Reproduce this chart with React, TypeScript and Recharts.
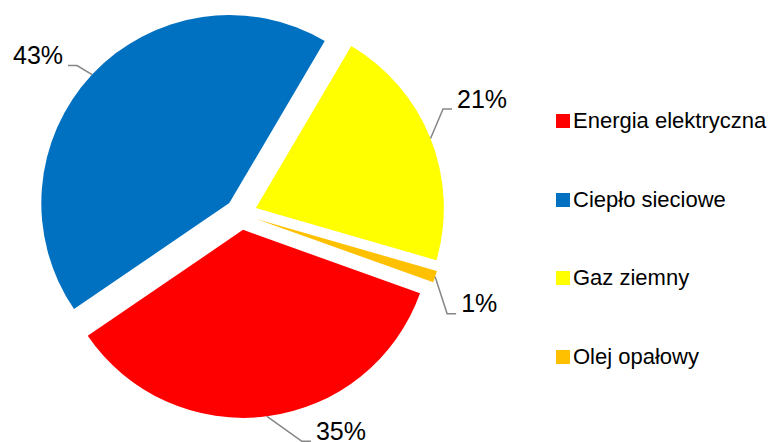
import React from 'react';
import { PieChart, Pie, Cell, Sector, Legend } from 'recharts';

const categories = ['Energia elektryczna', 'Ciepło sieciowe', 'Gaz ziemny', 'Olej opałowy'];
const shares = [35, 43, 21, 1];
const colors = ['#FF0000', '#0070C0', '#FFFF00', '#FFC000'];

const data = categories.map((name, i) => ({ name, value: shares[i] }));

const RAD = Math.PI / 180;
const EXPLODE = 16;
const FONT = '"Liberation Sans", Arial, sans-serif';
// elbow offsets of leader lines relative to the arc point (layout only)
const LABEL_ELBOW: number[][] = [[35, 25], [-15, -9], [12.5, -29.5], [12, 37]];

const ExplodedSector = (props: any) => {
  const { cx, cy, midAngle } = props;
  const ncx = cx + EXPLODE * Math.cos(-midAngle * RAD);
  const ncy = cy + EXPLODE * Math.sin(-midAngle * RAD);
  return <Sector {...props} cx={ncx} cy={ncy} stroke="none" />;
};

const renderLabel = (props: any) => {
  const { cx, cy, midAngle, outerRadius, index, value } = props;
  const R = outerRadius + EXPLODE;
  const ax = cx + R * Math.cos(-midAngle * RAD);
  const ay = cy + R * Math.sin(-midAngle * RAD);
  const [ox, oy] = LABEL_ELBOW[index];
  const ex = ax + ox;
  const ey = ay + oy;
  const left = ox < 0;
  const hx = left ? ex - 9 : ex + 9;
  const tx = left ? hx - 5 : hx + 5;
  return (
    <g>
      <polyline
        points={`${ax},${ay} ${ex},${ey} ${hx},${ey}`}
        fill="none"
        stroke="#868686"
        strokeWidth={1.5}
      />
      <text
        x={tx}
        y={ey - 1.5}
        textAnchor={left ? 'end' : 'start'}
        fontSize={25}
        fill="#000"
        fontFamily={FONT}
      >
        {value}%
      </text>
    </g>
  );
};

const renderLegend = () => (
  <div style={{ fontFamily: FONT }}>
    {categories.map((c, i) => (
      <div key={c} style={{ height: 78.67, display: 'flex', alignItems: 'center', whiteSpace: 'nowrap' }}>
        <span style={{ width: 14, height: 14, background: colors[i], display: 'inline-block' }} />
        <span style={{ marginLeft: 3, fontSize: 22, lineHeight: '22px', color: '#000' }}>{c}</span>
      </div>
    ))}
  </div>
);

export default function App() {
  return (
    <div style={{ position: 'absolute', left: 0, top: 0, width: 773, height: 442, background: '#fff' }}>
      <PieChart width={773} height={442} margin={{ top: 0, right: 0, bottom: 0, left: 0 }}>
        <Pie
          data={data}
          dataKey="value"
          nameKey="name"
          cx={241}
          cy={214}
          outerRadius={188}
          startAngle={-19.7}
          endAngle={-379.7}
          stroke="none"
          isAnimationActive={false}
          shape={ExplodedSector}
          label={renderLabel}
          labelLine={false}
        >
          {data.map((d, i) => (
            <Cell key={d.name} fill={colors[i]} />
          ))}
        </Pie>
        <Legend
          layout="vertical"
          align="right"
          verticalAlign="middle"
          content={renderLegend}
          wrapperStyle={{ left: 556, top: 81.7, right: 'auto', bottom: 'auto', width: 217 }}
        />
      </PieChart>
    </div>
  );
}
